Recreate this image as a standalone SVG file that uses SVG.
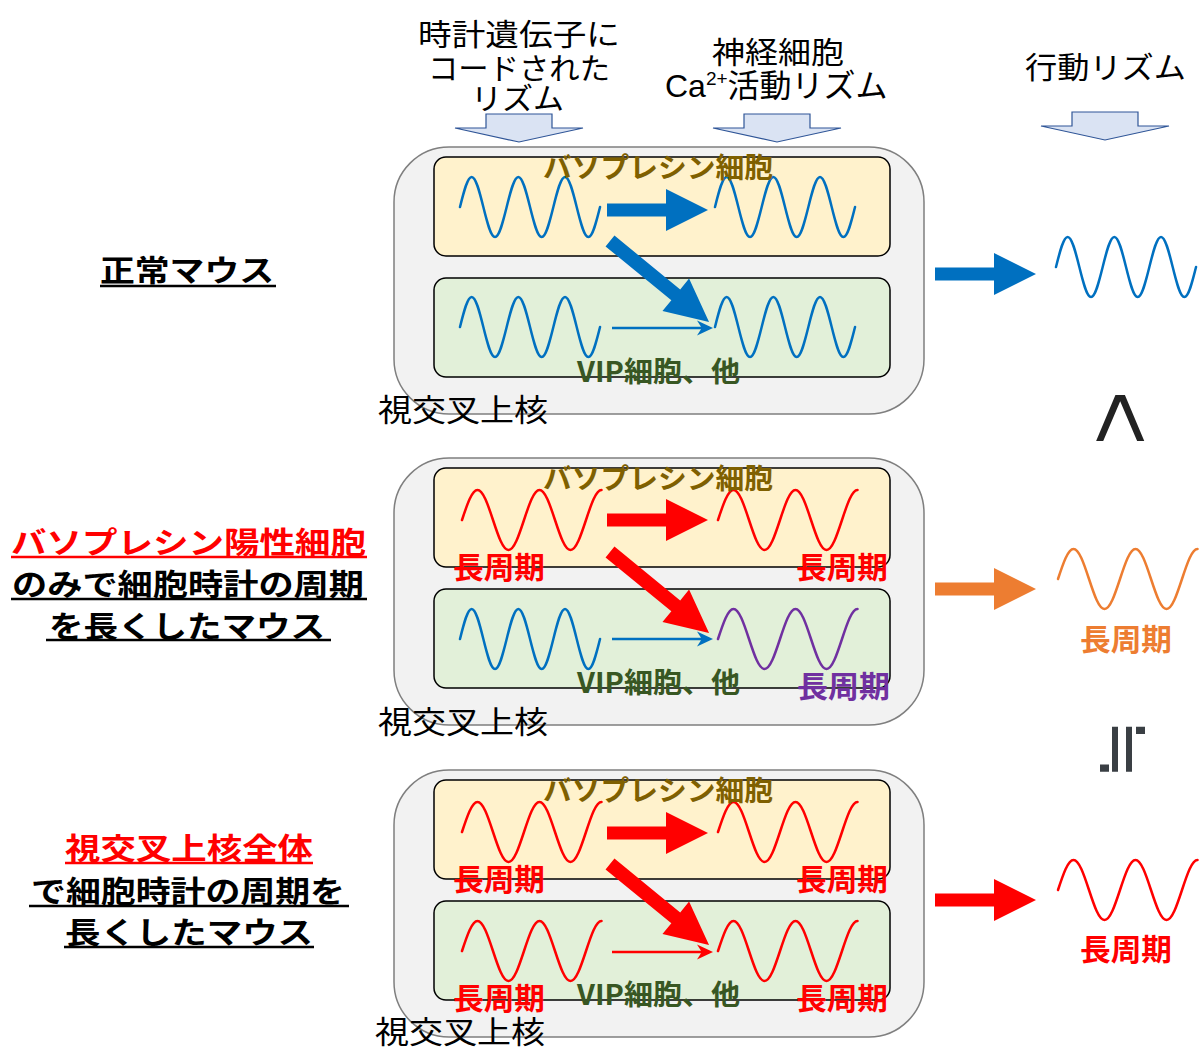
<svg xmlns="http://www.w3.org/2000/svg" xmlns:xlink="http://www.w3.org/1999/xlink" width="1203" height="1050" viewBox="0 0 1203 1050">
<style>
text{font-family:"Noto Sans CJK JP",sans-serif}
.b{font-weight:700}
.wave{fill:none;stroke-width:2.5;stroke-linejoin:round;stroke-linecap:round}
.outer{fill:#F2F2F2;stroke:#7F7F7F;stroke-width:1.5}
.vp{fill:#FFF2CC;stroke:#000;stroke-width:1.5}
.vip{fill:#E2F0D9;stroke:#000;stroke-width:1.5}
.blk{fill:#DAE3F3;stroke:#2F5597;stroke-width:1.2}
.vpt{font-size:28px;font-weight:700;fill:#7F6000}
.vipt{font-size:28px;font-weight:700;fill:#385723}
.scn{font-size:31px;fill:#000}
.lp{font-size:30px;font-weight:700}
.hd{font-size:30px;fill:#000}
.ul{stroke-width:2.6}
</style>
<defs>
<path id="sw" d="M0,0 c3.8,-15.37 7.44,-30 11.67,-30 c4.22,0 7.86,14.63 11.67,30 c3.8,15.37 7.44,30 11.67,30 c4.22,0 7.86,-14.63 11.67,-30 c3.8,-15.37 7.44,-30 11.67,-30 c4.22,0 7.86,14.63 11.67,30 c3.8,15.37 7.44,30 11.67,30 c4.22,0 7.86,-14.63 11.67,-30 c3.8,-15.37 7.44,-30 11.67,-30 c4.22,0 7.86,14.63 11.67,30 c3.8,15.37 7.44,30 11.67,30 c4.22,0 7.86,-14.63 11.67,-30"/>
<path id="lw" d="M0,0 c5.05,-15.37 9.89,-30 15.5,-30 c5.61,0 10.45,14.63 15.5,30 c5.05,15.37 9.89,30 15.5,30 c5.61,0 10.45,-14.63 15.5,-30 c5.05,-15.37 9.89,-30 15.5,-30 c5.61,0 10.45,14.63 15.5,30 c5.05,15.37 9.89,30 15.5,30 c5.61,0 10.45,-14.63 15.5,-30 c5.05,-15.37 9.89,-30 15.5,-30"/>
<path id="ha" d="M0,-6.5 H59 V-21 L101,0 L59,21 V6.5 H0 Z"/>
<path id="da" d="M0,-7 H85 V-21 L128,0 L85,21 V7 H0 Z"/>
<path id="ta" d="M0,-1.3 H89 L85,-7.5 L101,0 L85,7.5 L89,1.3 H0 Z"/>
<path id="ba" d="M-33,-28 H33 V-14 H64 L0,0 L-64,-14 H-33 Z"/>
</defs>

<g id="header">
<text class="hd" x="418" y="45" textLength="202" lengthAdjust="spacingAndGlyphs">時計遺伝子に</text>
<text class="hd" x="428" y="79" textLength="182" lengthAdjust="spacingAndGlyphs">コードされた</text>
<text class="hd" x="471" y="109" textLength="93" lengthAdjust="spacingAndGlyphs">リズム</text>
<text class="hd" x="712" y="63" textLength="132" lengthAdjust="spacingAndGlyphs">神経細胞</text>
<text class="hd" x="665" y="97" style="font-size:32px"><tspan font-family="Liberation Sans, sans-serif">Ca</tspan><tspan font-family="Liberation Sans, sans-serif" font-size="19" dy="-12">2+</tspan><tspan dy="12">活動リズム</tspan></text>
<text class="hd" x="1025" y="78" textLength="161" lengthAdjust="spacingAndGlyphs">行動リズム</text>
</g>

<g id="label-normal">
<text class="lp" x="100" y="281" textLength="174" lengthAdjust="spacingAndGlyphs">正常マウス</text>
<line class="ul" x1="100" y1="286" x2="276" y2="286" stroke="#000"/>
</g>
<g id="label-vp">
<text class="lp" x="11" y="553" fill="#FF0000" textLength="355" lengthAdjust="spacingAndGlyphs">バソプレシン陽性細胞</text>
<line class="ul" x1="11" y1="557" x2="367" y2="557" stroke="#FF0000"/>
<text class="lp" x="12" y="595" textLength="352" lengthAdjust="spacingAndGlyphs">のみで細胞時計の周期</text>
<line class="ul" x1="11" y1="599" x2="367" y2="599" stroke="#000"/>
<text class="lp" x="49" y="637" textLength="276" lengthAdjust="spacingAndGlyphs">を長くしたマウス</text>
<line class="ul" x1="46" y1="640" x2="331" y2="640" stroke="#000"/>
</g>
<g id="label-scn">
<text class="lp" x="65" y="859" fill="#FF0000" textLength="248" lengthAdjust="spacingAndGlyphs">視交叉上核全体</text>
<line class="ul" x1="65" y1="863" x2="313" y2="863" stroke="#FF0000"/>
<text class="lp" x="31" y="902" textLength="314" lengthAdjust="spacingAndGlyphs">で細胞時計の周期を</text>
<line class="ul" x1="29" y1="906" x2="349" y2="906" stroke="#000"/>
<text class="lp" x="65" y="943" textLength="248" lengthAdjust="spacingAndGlyphs">長くしたマウス</text>
<line class="ul" x1="64" y1="947" x2="314" y2="947" stroke="#000"/>
</g>

<g id="panel-normal">
<rect class="outer" x="394" y="147" width="530" height="267" rx="55"/>
<rect class="vp" x="434" y="157" width="456" height="99" rx="12"/>
<rect class="vip" x="434" y="278" width="456" height="99" rx="12"/>
<use href="#sw" class="wave" x="460" y="207" stroke="#0070C0"/>
<use href="#sw" class="wave" x="715" y="207" stroke="#0070C0"/>
<use href="#sw" class="wave" x="460" y="327" stroke="#0070C0"/>
<use href="#sw" class="wave" x="715" y="327" stroke="#0070C0"/>
<text class="vpt" x="543" y="178" textLength="230" lengthAdjust="spacingAndGlyphs">バソプレシン細胞</text>
<text class="vipt" x="577" y="382" textLength="163" lengthAdjust="spacingAndGlyphs">VIP細胞、他</text>
<text class="scn" x="378" y="421" textLength="170" lengthAdjust="spacingAndGlyphs">視交叉上核</text>
</g>

<g id="panel-vp" transform="translate(0,311)">
<rect class="outer" x="394" y="147" width="530" height="267" rx="55"/>
<rect class="vp" x="434" y="157" width="456" height="99" rx="12"/>
<rect class="vip" x="434" y="278" width="456" height="99" rx="12"/>
<use href="#lw" class="wave" x="462" y="209" stroke="#FF0000"/>
<use href="#lw" class="wave" x="718" y="209" stroke="#FF0000"/>
<use href="#sw" class="wave" x="460" y="328" stroke="#0070C0"/>
<use href="#lw" class="wave" x="718" y="328" stroke="#7030A0"/>
<text class="vpt" x="543" y="178" textLength="230" lengthAdjust="spacingAndGlyphs">バソプレシン細胞</text>
<text class="vipt" x="577" y="382" textLength="163" lengthAdjust="spacingAndGlyphs">VIP細胞、他</text>
<text class="lp" x="453" y="267" fill="#FF0000" textLength="92" lengthAdjust="spacingAndGlyphs">長周期</text>
<text class="lp" x="796" y="267" fill="#FF0000" textLength="92" lengthAdjust="spacingAndGlyphs">長周期</text>
<text class="lp" x="797" y="386" fill="#7030A0" textLength="93" lengthAdjust="spacingAndGlyphs">長周期</text>
<text class="scn" x="378" y="422" textLength="170" lengthAdjust="spacingAndGlyphs">視交叉上核</text>
</g>

<g id="panel-scn" transform="translate(0,623)">
<rect class="outer" x="394" y="147" width="530" height="267" rx="55"/>
<rect class="vp" x="434" y="157" width="456" height="99" rx="12"/>
<rect class="vip" x="434" y="278" width="456" height="99" rx="12"/>
<use href="#lw" class="wave" x="462" y="209" stroke="#FF0000"/>
<use href="#lw" class="wave" x="718" y="209" stroke="#FF0000"/>
<use href="#lw" class="wave" x="462" y="328" stroke="#FF0000"/>
<use href="#lw" class="wave" x="718" y="328" stroke="#FF0000"/>
<text class="vpt" x="543" y="178" textLength="230" lengthAdjust="spacingAndGlyphs">バソプレシン細胞</text>
<text class="vipt" x="577" y="382" textLength="163" lengthAdjust="spacingAndGlyphs">VIP細胞、他</text>
<text class="lp" x="453" y="267" fill="#FF0000" textLength="92" lengthAdjust="spacingAndGlyphs">長周期</text>
<text class="lp" x="796" y="267" fill="#FF0000" textLength="92" lengthAdjust="spacingAndGlyphs">長周期</text>
<text class="lp" x="453" y="386" fill="#FF0000" textLength="92" lengthAdjust="spacingAndGlyphs">長周期</text>
<text class="lp" x="796" y="386" fill="#FF0000" textLength="92" lengthAdjust="spacingAndGlyphs">長周期</text>
<text class="scn" x="375" y="420" textLength="170" lengthAdjust="spacingAndGlyphs">視交叉上核</text>
</g>

<g id="behavior-normal">
<use href="#sw" class="wave" x="1056" y="267" stroke="#0070C0"/>
</g>
<g id="behavior-vp">
<use href="#lw" class="wave" x="1058" y="579" stroke="#ED7D31"/>
<text class="lp" x="1080" y="650" fill="#ED7D31" textLength="92" lengthAdjust="spacingAndGlyphs">長周期</text>
</g>
<g id="behavior-scn">
<use href="#lw" class="wave" x="1058" y="890" stroke="#FF0000"/>
<text class="lp" x="1080" y="960" fill="#FF0000" textLength="92" lengthAdjust="spacingAndGlyphs">長周期</text>
</g>

<g id="comparisons">
<text transform="translate(1089,418) rotate(90)" text-anchor="middle" font-size="95" fill="#222" style="font-family:'Liberation Sans',sans-serif">&lt;</text>
<text transform="translate(1100,749) rotate(90)" text-anchor="middle" font-size="72" fill="#3A3F44">≒</text>
</g>

<g id="connectors">
<use href="#ba" class="blk" x="519" y="142"/>
<use href="#ba" class="blk" x="777" y="142"/>
<use href="#ba" class="blk" x="1105" y="140"/>
<use href="#ha" x="607" y="210" fill="#0070C0"/>
<use href="#da" transform="translate(610,241) rotate(39.3)" fill="#0070C0"/>
<use href="#ta" x="612" y="328" fill="#0070C0"/>
<use href="#ha" x="607" y="520" fill="#FF0000"/>
<use href="#da" transform="translate(610,552) rotate(39.3)" fill="#FF0000"/>
<use href="#ta" x="612" y="639" fill="#0070C0"/>
<use href="#ha" x="607" y="833" fill="#FF0000"/>
<use href="#da" transform="translate(610,864) rotate(39.3)" fill="#FF0000"/>
<use href="#ta" x="612" y="952" fill="#FF0000"/>
<use href="#ha" x="935" y="274" fill="#0070C0"/>
<use href="#ha" x="935" y="589" fill="#ED7D31"/>
<use href="#ha" x="935" y="900" fill="#FF0000"/>
</g>
</svg>
